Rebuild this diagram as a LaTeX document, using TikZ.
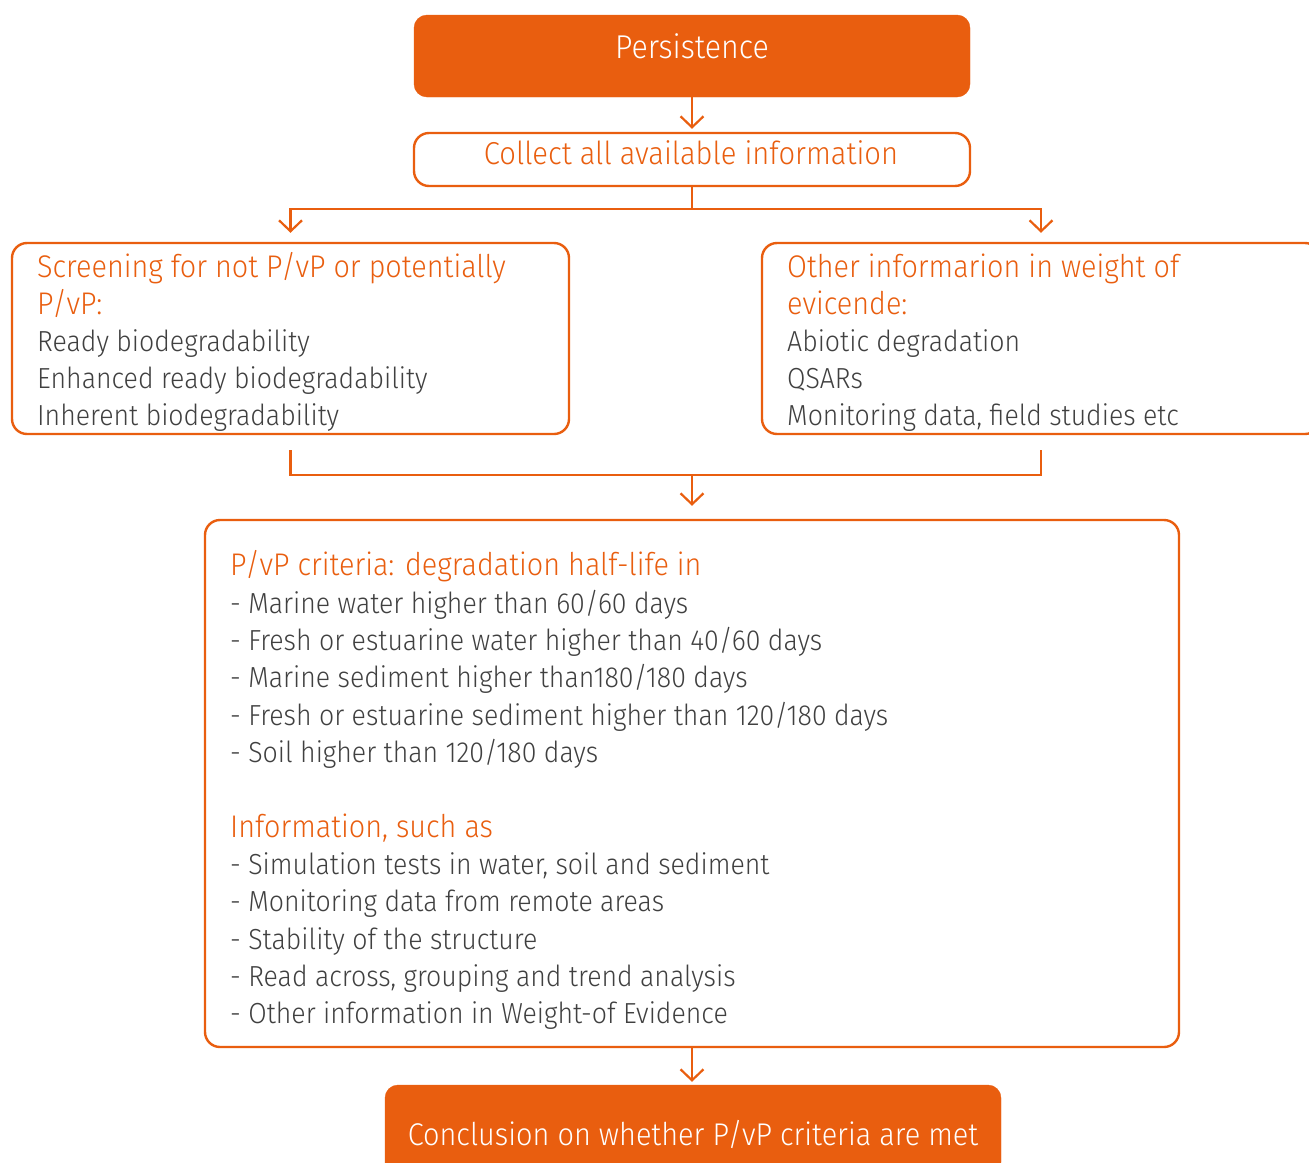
\documentclass[tikz,border=0pt]{standalone}
\usepackage{fontspec}
\setmainfont{Fira Sans Light}[FakeStretch=0.92]
\usetikzlibrary{arrows.meta}
\definecolor{orng}{RGB}{233,94,15}
\definecolor{txtgray}{RGB}{64,64,64}
\begin{document}
\begin{tikzpicture}[x=1pt,y=-1pt,
  solidbox/.style={fill=orng, draw=orng, rounded corners=13pt, inner sep=0pt},
  framebox/.style={draw=orng, line width=2.4pt, fill=white, rounded corners=15pt, inner sep=0pt},
  conn/.style={draw=orng, line width=2.2pt},
  arr/.style={conn, -{Straight Barb[length=11pt,width=23pt,line width=2.2pt]}},
  ttl/.style={anchor=base west, inner sep=0pt, text=orng, font=\fontsize{31.3}{37}\selectfont},
  itm/.style={anchor=base west, inner sep=0pt, text=txtgray, font=\fontsize{29}{37}\selectfont},
  ctr/.style={anchor=base, inner sep=0pt}
]
\useasboundingbox (0,0) rectangle (1309,1162);
% boxes
\node[solidbox, minimum width=556pt, minimum height=82pt] (persist) at (692,56) {};
\node[framebox, minimum width=556pt, minimum height=53pt] (collect) at (692,159.5) {};
\node[framebox, minimum width=557pt, minimum height=191pt] (left) at (290.5,338.5) {};
\node[framebox, minimum width=558pt, minimum height=191pt] (right) at (1041,338.5) {};
\node[framebox, minimum width=974pt, minimum height=527pt] (big) at (692,783.5) {};
\node[solidbox, minimum width=616pt, minimum height=90pt] (concl) at (693,1130) {};
% box texts
\node[ctr, text=white, font=\fontsize{33}{40}\selectfont] (persistT) at (692,58) {Persistence};
\node[ctr, text=orng, font=\fontsize{31.7}{37}\selectfont] (collectT) at (691,164) {Collect all available information};
\node[ctr, text=white, font=\fontsize{31.4}{40}\selectfont] (conclT) at (693,1145) {Conclusion on whether P/vP criteria are met};
% left box
\node[ttl] (l1) at (37,277) {Screening for not P/vP or potentially};
\node[ttl] (l2) at (37,314) {P/vP:};
\node[itm] (l3) at (37,351) {Ready biodegradability};
\node[itm] (l4) at (37,388) {Enhanced ready biodegradability};
\node[itm] (l5) at (37,425) {Inherent biodegradability};
% right box
\node[ttl] (r1) at (787,277) {Other informarion in weight of};
\node[ttl] (r2) at (787,314) {evicende:};
\node[itm] (r3) at (787,351) {Abiotic degradation};
\node[itm] (r4) at (787,388) {QSARs};
\node[itm] (r5) at (787,425) {Monitoring data, field studies etc};
% big box
\node[ttl] (b1) at (230,575) {P/vP criteria: degradation half-life in};
\node[itm] (b2) at (230,613) {- Marine water higher than 60/60 days};
\node[itm] (b3) at (230,650) {- Fresh or estuarine water higher than 40/60 days};
\node[itm] (b4) at (230,687) {- Marine sediment higher than180/180 days};
\node[itm] (b5) at (230,725) {- Fresh or estuarine sediment higher than 120/180 days};
\node[itm] (b6) at (230,762) {- Soil higher than 120/180 days};
\node[ttl] (b7) at (230,837) {Information, such as};
\node[itm] (b8) at (230,874) {- Simulation tests in water, soil and sediment};
\node[itm] (b9) at (230,911) {- Monitoring data from remote areas};
\node[itm] (b10) at (230,949) {- Stability of the structure};
\node[itm] (b11) at (230,986) {- Read across, grouping and trend analysis};
\node[itm] (b12) at (230,1023) {- Other information in Weight-of Evidence};
% connectors
\coordinate (split) at (692,209);
\coordinate (merge) at (692,475);
\draw[arr, shorten >=3pt] (persist.south) -- (collect.north);
\draw[conn] (collect.south) -- (split);
\draw[arr, shorten >=9pt] (split) -| (left.north);
\draw[arr, shorten >=9pt] (split) -| (right.north);
\draw[conn, shorten <=15pt] (left.south) |- (merge);
\draw[conn, shorten <=15pt] (right.south) |- (merge);
\draw[arr, shorten >=13pt] (merge) -- (big.north);
\draw[arr, shorten >=3pt] (big.south) -- (big.south |- concl.north);
\end{tikzpicture}
\end{document}
